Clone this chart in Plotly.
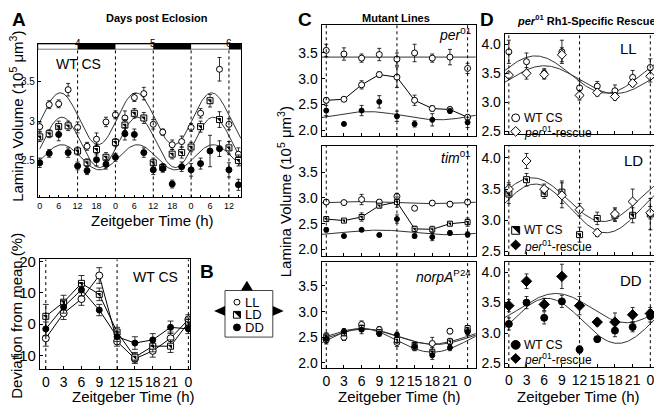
import numpy as np
import plotly.graph_objects as go

# ---------------- panel A : WT CS, three days (hours from ZT0 of day 4)
a_hours = list(range(0, 64, 3))
a_ll = [2.93, 3.21, 3.22, 3.40, 2.92, 2.68, 2.77, 2.99, 3.08, 3.04, 3.30,
        3.35, 2.96, 2.86, 2.70, 2.74, 2.92, 3.10, None, 3.66, 2.96, 2.58]
a_ll_err = [0.06, 0.05, 0.05, 0.08, 0.07, 0.05, 0.08, 0.06, 0.05, 0.09, 0.05,
            0.08, 0.06, 0.04, 0.06, 0.07, 0.05, 0.06, None, 0.15, 0.07, 0.08]
a_ld = [2.80, 2.84, 2.93, 2.94, 2.62, 2.47, 2.64, 2.54, 2.73, 2.95, 3.10,
        3.04, 2.47, 2.41, 2.58, 2.60, 2.67, 2.93, 3.26, 3.02, 2.66, 2.50]
a_ld_err = [0.06, 0.05, 0.07, 0.06, 0.05, 0.05, 0.07, 0.06, 0.05, 0.07, 0.06,
            0.07, 0.06, 0.05, 0.06, 0.07, 0.06, 0.07, 0.08, 0.10, 0.08, 0.07]
a_dd = [2.47, 2.59, 2.83, 2.60, 2.43, 2.37, 2.51, 2.45, 2.54, 2.84, 2.83,
        2.60, 2.38, 2.40, 2.20, 2.42, 2.38, 2.46, 2.62, 2.65, 2.38, 2.19]
a_dd_err = [0.06, 0.05, 0.08, 0.06, 0.05, 0.05, 0.08, 0.06, 0.05, 0.08, 0.07,
            0.06, 0.06, 0.05, 0.05, 0.06, 0.08, 0.07, 0.20, 0.10, 0.09, 0.07]
a_tick_hours = list(range(0, 61, 6))
a_tick_labels = ["0", "6", "12", "18", "0", "6", "12", "18", "0", "6", "12"]
a_day_hours = [12, 36, 60]
a_day_labels = ["4", "5", "6"]
a_dark = [(12, 24), (36, 48), (60, 64)]

# fitted cosinor parameters: (mesor, amplitude, peak ZT)
a_fit_ll = (3.03, 0.33, 6.5)
a_fit_ld = (2.73, 0.32, 7.0)
a_fit_dd = (2.54, 0.16, 7.0)

# ---------------- shared ZT axis for B, C, D
zt = [0, 3, 6, 9, 12, 15, 18, 21, 24]
zt_labels = ["0", "3", "6", "9", "12", "15", "18", "21", "0"]

# ---------------- panel A lower : deviation from mean (%)
b_ll = [-4.5, 3.5, 8.0, 15.5, -5.5, -11.0, -8.5, -4.5, 1.5]
b_ll_err = [2.5, 2.0, 2.0, 2.5, 1.5, 1.5, 2.0, 2.0, 1.5]
b_ld = [2.5, 7.0, 13.0, 9.5, -2.5, -10.5, -7.0, -7.0, 0.5]
b_ld_err = [3.8, 2.2, 2.5, 2.0, 1.5, 1.5, 1.8, 2.0, 1.5]
b_dd = [-1.5, 5.5, 11.0, 4.5, -4.0, -6.0, -5.0, -1.0, -1.5]
b_dd_err = [2.2, 2.0, 2.0, 1.8, 1.5, 2.0, 2.0, 2.0, 1.5]

# ---------------- panel C : mutant lines
per_ll = [3.55, 3.48, 3.40, 3.47, 3.38, 3.50, 3.40, 3.42, 3.20]
per_ll_err = [0.12, 0.12, 0.08, 0.12, 0.12, 0.17, 0.08, 0.15, 0.10]
per_ld = [2.58, 2.60, 2.88, 3.08, 3.03, 2.58, 2.42, 2.40, 2.25]
per_ld_err = [0.05, 0.04, 0.08, 0.05, 0.20, 0.10, 0.05, 0.05, 0.04]
per_dd = [2.38, 2.12, 2.38, 2.55, 2.27, 2.12, 2.20, 2.37, 2.15]
per_dd_err = [0.10, 0.03, 0.10, 0.12, 0.10, 0.06, 0.12, 0.04, 0.10]
per_fit_ll = (3.42, 0.0, 0.0)
per_fit_dd = (2.28, 0.08, 7.0)

tim_ll = [2.92, 2.91, 2.97, 2.92, 3.03, 2.80, 2.90, 2.88, 2.92]
tim_ll_err = [0.04, 0.04, 0.10, 0.04, 0.06, 0.03, 0.04, 0.05, 0.05]
tim_ld = [2.59, 2.56, 2.63, 2.85, 2.92, 2.40, 2.39, 2.50, 2.53]
tim_ld_err = [0.04, 0.03, 0.08, 0.04, 0.10, 0.05, 0.06, 0.04, 0.08]
tim_dd = [2.38, 2.26, 2.38, 2.28, 2.59, 2.26, 2.24, 2.32, 2.29]
tim_dd_err = [0.04, 0.03, 0.03, 0.03, 0.08, 0.04, 0.07, 0.04, 0.05]
tim_fit_ll = (2.91, 0.02, 6.0)
tim_fit_dd = (2.33, 0.045, 9.0)

norp_ll = [2.45, 2.50, 2.75, 2.65, 2.40, 2.30, 2.38, 2.62, 2.63]
norp_ll_err = [0.08, 0.06, 0.07, 0.06, 0.08, 0.06, 0.12, 0.05, 0.06]
norp_ld = [2.52, 2.58, 2.68, 2.60, 2.45, 2.35, 2.22, 2.42, 2.68]
norp_ld_err = [0.07, 0.05, 0.06, 0.05, 0.06, 0.05, 0.08, 0.06, 0.04]
norp_dd = [2.47, 2.62, 2.65, 2.57, 2.55, 2.32, 2.15, 2.30, 2.60]
norp_dd_err = [0.08, 0.05, 0.08, 0.05, 0.05, 0.06, 0.08, 0.06, 0.06]
norp_fit_ll = (2.44, 0.23, 6.0)
norp_fit_ld = (2.52, 0.15, 6.0)
norp_fit_dd = (2.51, 0.15, 6.5)

# ---------------- panel D : per01 Rh1-specific rescue
d_ll_wt = [3.87, 3.70, 3.50, 3.87, 3.25, 3.28, 3.20, 3.43, 3.60]
d_ll_wt_err = [0.20, 0.15, 0.08, 0.20, 0.12, 0.08, 0.10, 0.12, 0.15]
d_ll_res = [3.47, 3.50, 3.48, 3.82, 3.12, 3.17, 3.10, 3.33, 3.45]
d_ll_res_err = [0.05, 0.10, 0.08, 0.12, 0.08, 0.06, 0.06, 0.06, 0.10]
d_ll_fit_wt = (3.48, 0.32, 4.5)
d_ll_fit_res = (3.39, 0.24, 6.0)

d_ld_wt = [3.42, 3.65, 3.43, 3.45, 2.77, 3.03, 3.08, 3.08, 3.10]
d_ld_wt_err = [0.15, 0.10, 0.08, 0.18, 0.12, 0.10, 0.10, 0.12, 0.25]
d_ld_res = [3.50, 3.95, 3.50, 3.40, 3.17, 2.80, 3.10, 3.30, 3.12]
d_ld_res_err = [0.10, 0.12, 0.08, 0.20, 0.10, 0.06, 0.10, 0.20, 0.10]
d_ld_fit_wt = (3.33, 0.35, 4.0)
d_ld_fit_res = (3.19, 0.39, 4.5)

d_dd_wt = [3.15, 3.50, 3.25, 3.52, 2.73, 2.90, 3.04, 3.10, 3.28]
d_dd_wt_err = [0.10, 0.10, 0.10, 0.10, 0.06, 0.04, 0.10, 0.08, 0.10]
d_dd_res = [3.45, 3.85, 3.47, 3.93, 3.45, 3.18, 3.18, 3.30, 3.32]
d_dd_res_err = [0.10, 0.12, 0.10, 0.20, 0.15, 0.06, 0.15, 0.12, 0.10]
d_dd_fit_wt = (3.20, 0.37, 6.5)
d_dd_fit_res = (3.41, 0.24, 8.0)

# the page body keeps its default 8px margin, so the figure is drawn 8px in
OFF = 8
W, H = 662 - OFF, 410 - OFF
FONT = "Liberation Sans, Arial, sans-serif"
FIT = "#333333"


def px(x):
    return (x - OFF) / W


def py(y):
    return 1 - (y - OFF) / H


def cosinor(t, params):
    mesor, amp, peak = params
    return mesor + amp * np.cos(2 * np.pi * (t - peak) / 24)


fig = go.Figure()


def add_fit(xa, ya, params, t0, t1):
    t = np.linspace(t0, t1, 200)
    fig.add_trace(go.Scatter(x=t, y=cosinor(t, params), mode="lines", xaxis=xa, yaxis=ya,
                             line=dict(color=FIT, width=1), showlegend=False, hoverinfo="skip"))


def add_points(xa, ya, x, y, err, kind, size, lines=False, cap=2):
    common = dict(x=x, y=y, xaxis=xa, yaxis=ya, showlegend=False, hoverinfo="skip")
    if kind == "open":
        m = dict(symbol="circle", color="white", size=size, line=dict(color="black", width=1))
    elif kind == "filled":
        m = dict(symbol="circle", color="black", size=size, line=dict(color="black", width=1))
    elif kind == "half":
        m = dict(symbol="square", color="white", size=size - 1, line=dict(color="black", width=1))
    elif kind == "diamond-open":
        m = dict(symbol="diamond", color="white", size=size + 1, line=dict(color="black", width=1))
    else:
        m = dict(symbol="diamond", color="black", size=size + 1, line=dict(color="black", width=1))
    fig.add_trace(go.Scatter(mode="lines+markers" if lines else "markers", marker=m,
                             line=dict(color="black", width=1),
                             error_y=dict(type="data", array=err, color="black", thickness=0.8, width=cap),
                             **common))
    if kind == "half":
        fig.add_trace(go.Scatter(mode="markers", marker=dict(symbol="triangle-ne", color="black",
                                                             size=(size - 1) * 0.8, line=dict(width=0)),
                                 **common))


# ---- panel A
add_fit("x", "y", a_fit_ll, 0, 63.8)
add_fit("x", "y", a_fit_ld, 0, 63.8)
add_fit("x", "y", a_fit_dd, 0, 63.8)
add_points("x", "y", a_hours, a_ll, a_ll_err, "open", 6)
add_points("x", "y", a_hours, a_ld, a_ld_err, "half", 7)
add_points("x", "y", a_hours, a_dd, a_dd_err, "filled", 6)

# ---- panel A lower
add_points("x2", "y2", zt, b_ll, b_ll_err, "open", 7, lines=True, cap=3)
add_points("x2", "y2", zt, b_ld, b_ld_err, "half", 7, lines=True, cap=3)
add_points("x2", "y2", zt, b_dd, b_dd_err, "filled", 6, lines=True, cap=3)

# ---- panel C
add_fit("x3", "y3", per_fit_ll, -0.8, 25.4)
add_fit("x3", "y3", per_fit_dd, -0.8, 25.4)
add_points("x3", "y3", zt, per_ll, per_ll_err, "open", 6)
add_points("x3", "y3", zt, per_ld, per_ld_err, "open", 6, lines=True)
add_points("x3", "y3", zt, per_dd, per_dd_err, "filled", 5)

add_fit("x4", "y4", tim_fit_ll, -0.8, 25.4)
add_fit("x4", "y4", tim_fit_dd, -0.8, 25.4)
add_points("x4", "y4", zt, tim_ll, tim_ll_err, "open", 6)
add_points("x4", "y4", zt, tim_ld, tim_ld_err, "half", 6, lines=True)
add_points("x4", "y4", zt, tim_dd, tim_dd_err, "filled", 5)

add_fit("x5", "y5", norp_fit_ll, -0.8, 25.4)
add_fit("x5", "y5", norp_fit_ld, -0.8, 25.4)
add_fit("x5", "y5", norp_fit_dd, -0.8, 25.4)
add_points("x5", "y5", zt, norp_ll, norp_ll_err, "open", 6)
add_points("x5", "y5", zt, norp_ld, norp_ld_err, "half", 6)
add_points("x5", "y5", zt, norp_dd, norp_dd_err, "filled", 5)

# ---- panel D
add_fit("x6", "y6", d_ll_fit_wt, -0.7, 24.8)
add_fit("x6", "y6", d_ll_fit_res, -0.7, 24.8)
add_points("x6", "y6", zt, d_ll_wt, d_ll_wt_err, "open", 6)
add_points("x6", "y6", zt, d_ll_res, d_ll_res_err, "diamond-open", 6)

add_fit("x7", "y7", d_ld_fit_wt, -0.7, 24.8)
add_fit("x7", "y7", d_ld_fit_res, -0.7, 24.8)
add_points("x7", "y7", zt, d_ld_wt, d_ld_wt_err, "half", 7)
add_points("x7", "y7", zt, d_ld_res, d_ld_res_err, "diamond-open", 6)

add_fit("x8", "y8", d_dd_fit_wt, -0.7, 24.8)
add_fit("x8", "y8", d_dd_fit_res, -0.7, 24.8)
add_points("x8", "y8", zt, d_dd_wt, d_dd_wt_err, "filled", 7)
add_points("x8", "y8", zt, d_dd_res, d_dd_res_err, "diamond", 7)


def axis(dom, rng, **kw):
    base = dict(domain=dom, range=rng, showline=True, mirror=True, linecolor="black", linewidth=1,
                ticks="inside", ticklen=3, tickcolor="black", showgrid=False, zeroline=False,
                tickangle=0, tickfont=dict(size=14, color="black"))
    base.update(kw)
    return base


cx, dx = [px(322), px(477)], [px(506), px(657)]
c_y = [2.0, 2.5, 3.0, 3.5]
c_t = ["2.0", "2.5", "3.0", "3.5"]
d_y = [2.5, 3.0, 3.5, 4.0]
d_t = ["2.5", "3.0", "3.5", "4.0"]

fig.update_layout(
    width=W, height=H, margin=dict(l=0, r=0, t=0, b=0),
    paper_bgcolor="white", plot_bgcolor="white",
    font=dict(family=FONT, color="black"),
    xaxis=axis([px(37), px(241)], [-0.6, 63.8], anchor="y", tickvals=a_tick_hours, ticktext=a_tick_labels,
               tickfont=dict(size=9), ticklen=2, minor=dict(dtick=3, ticks="inside", ticklen=2, tickcolor="black")),
    yaxis=axis([py(196), py(38)], [2.03, 3.98], anchor="x", tickvals=[2.5, 3, 3.5], ticktext=["2.5", "3", "3.5"],
               tickfont=dict(size=10)),
    xaxis2=axis([px(39), px(190)], [-1, 24.3], anchor="y2", tickvals=zt, ticktext=zt_labels, tickfont=dict(size=14)),
    yaxis2=axis([py(373), py(260)], [-14.3, 20.6], anchor="x2", tickvals=[-10, 0, 10, 20], tickfont=dict(size=15)),
    xaxis3=axis(cx, [-0.8, 25.4], anchor="y3", tickvals=zt, showticklabels=False),
    yaxis3=axis([py(133), py(18)], [1.88, 4.05], anchor="x3", tickvals=c_y, ticktext=c_t),
    xaxis4=axis(cx, [-0.8, 25.4], anchor="y4", tickvals=zt, showticklabels=False),
    yaxis4=axis([py(256), py(143)], [1.88, 4.01], anchor="x4", tickvals=c_y, ticktext=c_t),
    xaxis5=axis(cx, [-0.8, 25.4], anchor="y5", tickvals=zt, ticktext=zt_labels, tickfont=dict(size=14)),
    yaxis5=axis([py(372), py(263)], [1.90, 3.96], anchor="x5", tickvals=c_y, ticktext=c_t),
    xaxis6=axis(dx, [-0.7, 24.8], anchor="y6", tickvals=zt, showticklabels=False),
    yaxis6=axis([py(131), py(28)], [2.45, 4.17], anchor="x6", tickvals=d_y, ticktext=d_t),
    xaxis7=axis(dx, [-0.7, 24.8], anchor="y7", tickvals=zt, showticklabels=False),
    yaxis7=axis([py(255), py(143)], [2.45, 4.19], anchor="x7", tickvals=d_y, ticktext=d_t),
    xaxis8=axis(dx, [-0.7, 24.8], anchor="y8", tickvals=zt, ticktext=zt_labels, tickfont=dict(size=14)),
    yaxis8=axis([py(371), py(263)], [2.44, 4.16], anchor="x8", tickvals=d_y, ticktext=d_t),
)

shapes = []
dash = dict(color="black", width=1, dash="dot")
# light/dark bar and dashed boundaries in panel A
shapes.append(dict(type="rect", xref="x", yref="y", x0=-0.6, x1=63.8, y0=3.915, y1=3.98,
                   line=dict(color="#555", width=0.8), fillcolor="white"))
for a, b in a_dark:
    shapes.append(dict(type="rect", xref="x", yref="y", x0=a, x1=min(b, 63.8), y0=3.915, y1=3.98,
                       line=dict(width=0), fillcolor="black"))
for a, b in a_dark:
    for t in (a, b):
        if t < 63:
            shapes.append(dict(type="line", xref="x", yref="y", x0=t, x1=t, y0=2.03, y1=3.915, line=dash))
for xa in ["x2", "x3", "x4", "x5", "x6", "x7", "x8"]:
    ya = "y" + xa[1:]
    for t in (0, 12, 24):
        shapes.append(dict(type="line", xref=xa, yref=ya + " domain", x0=t, x1=t, y0=0, y1=1, line=dash))
# panel B legend box with arrows
shapes.append(dict(type="rect", xref="paper", yref="paper", x0=px(225), x1=px(273), y0=py(340), y1=py(292),
                   line=dict(color="#444", width=1), fillcolor="white"))
for path in [
    f"M {px(241)} {py(292)} L {px(253)} {py(292)} L {px(247)} {py(282)} Z",
    f"M {px(225)} {py(308)} L {px(225)} {py(318)} L {px(214)} {py(313)} Z",
    f"M {px(273)} {py(308)} L {px(273)} {py(318)} L {px(284)} {py(313)} Z",
]:
    shapes.append(dict(type="path", xref="paper", yref="paper", path=path, fillcolor="black",
                       line=dict(width=0)))


def key_marker(kind, x, y, r):
    # legend symbols drawn as shapes, in reference pixel coordinates
    ln = dict(color="black", width=1)
    if kind in ("open", "filled"):
        shapes.append(dict(type="circle", xref="paper", yref="paper", x0=px(x - r), x1=px(x + r),
                           y0=py(y + r), y1=py(y - r), line=ln,
                           fillcolor="white" if kind == "open" else "black"))
    elif kind == "half":
        shapes.append(dict(type="rect", xref="paper", yref="paper", x0=px(x - r), x1=px(x + r),
                           y0=py(y + r), y1=py(y - r), line=ln, fillcolor="white"))
        shapes.append(dict(type="path", xref="paper", yref="paper", line=dict(width=0), fillcolor="black",
                           path=f"M {px(x - r)} {py(y - r)} L {px(x + r)} {py(y - r)} L {px(x + r)} {py(y + r)} Z"))
    else:
        shapes.append(dict(type="path", xref="paper", yref="paper", line=ln,
                           fillcolor="white" if kind == "diamond-open" else "black",
                           path=f"M {px(x)} {py(y - r)} L {px(x + r)} {py(y)} L {px(x)} {py(y + r)} "
                                f"L {px(x - r)} {py(y)} Z"))


key_marker("open", 237, 304, 3)
key_marker("half", 237, 317, 3.5)
key_marker("filled", 237, 330, 3.5)
key_marker("open", 517, 114, 4)
key_marker("diamond-open", 517, 128, 5)
key_marker("half", 517, 230, 4)
key_marker("diamond", 517, 245, 5)
key_marker("filled", 517, 348, 4.5)
key_marker("diamond", 517, 362, 5)
fig.update_layout(shapes=shapes)

ann = []


def text(x, y, s, size=14, xanchor="center", yanchor="middle", angle=0, bold=False):
    ann.append(dict(x=px(x), y=py(y), xref="paper", yref="paper", text=f"<b>{s}</b>" if bold else s,
                    showarrow=False, xanchor=xanchor, yanchor=yanchor, textangle=angle,
                    font=dict(size=size, family=FONT, color="black")))


for h, lab in zip(a_day_hours, a_day_labels):
    ann.append(dict(x=h, y=py(30), xref="x", yref="paper", text=lab, showarrow=False,
                    font=dict(size=10, family=FONT)))

text(9, 13, "A", 19, xanchor="left", bold=True)
text(157, 11, "Days post Eclosion", 11, bold=True)
text(78, 58, "WT CS", 14)
text(16, 112, "Lamina Volume (10<sup>5</sup> μm<sup>3</sup>)", 15, angle=-90)
text(152, 220, "Zeitgeber Time (h)", 15)
text(16, 318, "Deviation from mean (%)", 15, angle=-90)
text(133, 401, "Zeitgeber Time (h)", 15)
text(155, 278, "WT CS", 14)
text(207, 272, "B", 19, bold=True)
text(243, 304, "LL", 13, xanchor="left")
text(243, 317, "LD", 13, xanchor="left")
text(243, 330, "DD", 13, xanchor="left")

text(305, 13, "C", 19, bold=True)
text(397, 11, "Mutant Lines", 11, bold=True)
text(285, 190, "Lamina Volume (10<sup>5</sup> μm<sup>3</sup>)", 15, angle=-90)
text(474, 28, "<i>per</i><sup>01</sup>", 14, xanchor="right")
text(474, 154, "<i>tim</i><sup>01</sup>", 14, xanchor="right")
text(474, 277, "<i>norpA</i><sup>P24</sup>", 14, xanchor="right")
text(400, 401, "Zeitgeber Time (h)", 15)

text(488, 13, "D", 19, bold=True)
text(660, 13, "<i>per</i><sup>01</sup> Rh1-Specific Rescue", 11, xanchor="right", bold=True)
text(630, 43, "LL", 15)
text(635, 158, "LD", 15)
text(633, 282, "DD", 15)
text(523, 114, "WT CS", 12, xanchor="left")
text(523, 129, "<i>per</i><sup>01</sup>-rescue", 12, xanchor="left")
text(523, 230, "WT CS", 12, xanchor="left")
text(523, 246, "<i>per</i><sup>01</sup>-rescue", 12, xanchor="left")
text(523, 348, "WT CS", 12, xanchor="left")
text(523, 363, "<i>per</i><sup>01</sup>-rescue", 12, xanchor="left")
text(580, 401, "Zeitgeber Time (h)", 15)

fig.update_layout(annotations=ann)
fig.write_html("out.html")
